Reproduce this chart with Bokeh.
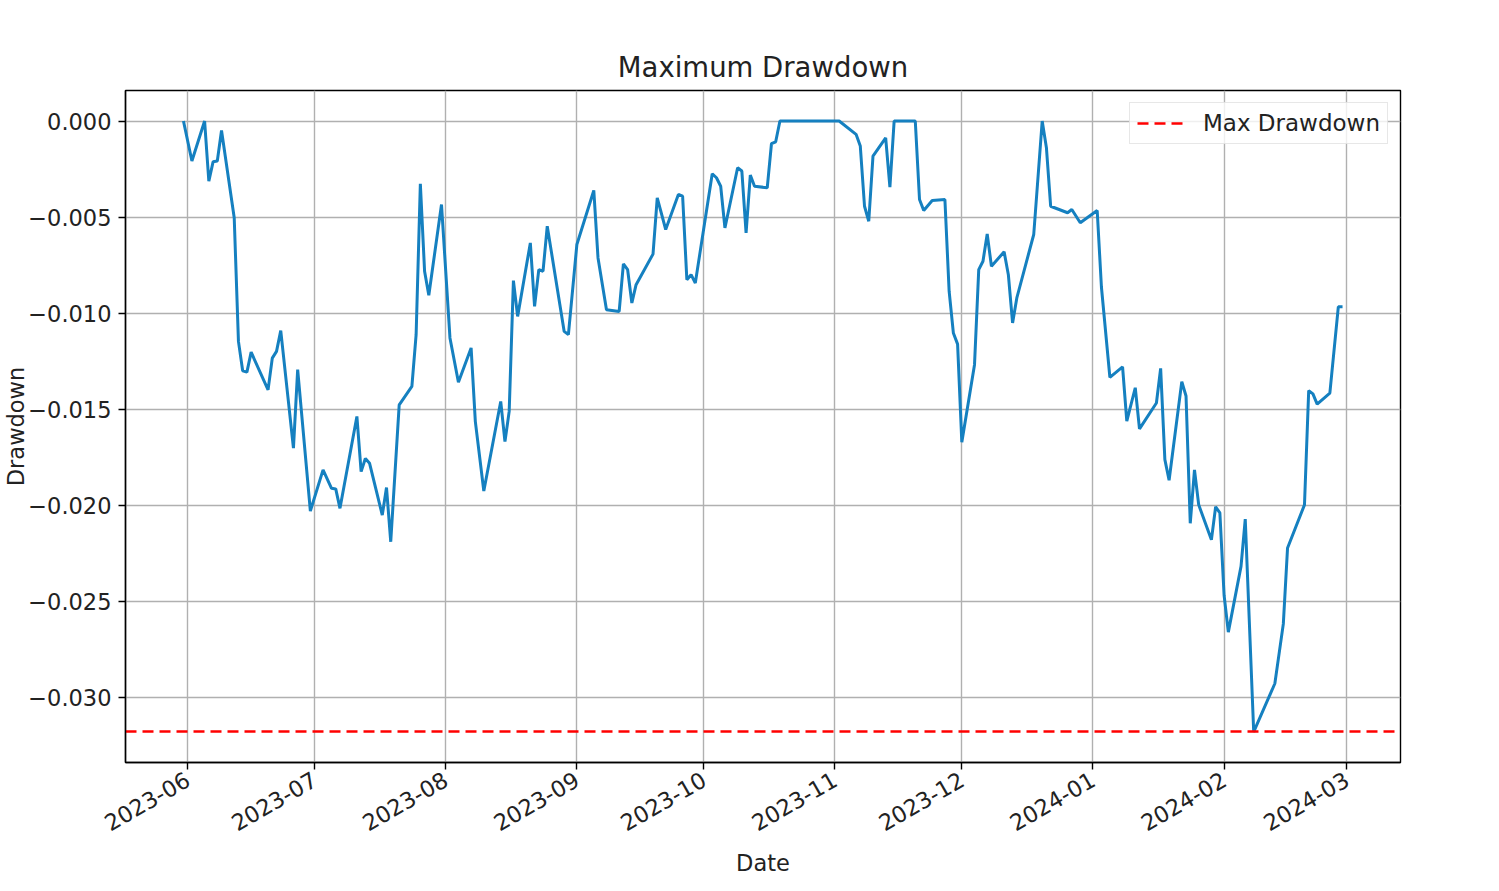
import math
import pandas as pd
from bokeh.plotting import figure
from bokeh.models import Range1d, FixedTicker, DatetimeTickFormatter, CustomJSTickFormatter
from bokeh.embed import file_html
from bokeh.resources import INLINE

# ---- data ----
dates = [
    "2023-05-31", "2023-06-02", "2023-06-05", "2023-06-06", "2023-06-07", "2023-06-08", "2023-06-09",
    "2023-06-12", "2023-06-13", "2023-06-14", "2023-06-15", "2023-06-16", "2023-06-20", "2023-06-21",
    "2023-06-22", "2023-06-23", "2023-06-26", "2023-06-27", "2023-06-30", "2023-07-03", "2023-07-05",
    "2023-07-06", "2023-07-07", "2023-07-11", "2023-07-12", "2023-07-13", "2023-07-14", "2023-07-17",
    "2023-07-18", "2023-07-19", "2023-07-21", "2023-07-24", "2023-07-25", "2023-07-26", "2023-07-27",
    "2023-07-28", "2023-07-31", "2023-08-02", "2023-08-04", "2023-08-07", "2023-08-08", "2023-08-10",
    "2023-08-14", "2023-08-15", "2023-08-16", "2023-08-17", "2023-08-18", "2023-08-21", "2023-08-22",
    "2023-08-23", "2023-08-24", "2023-08-25", "2023-08-29", "2023-08-30", "2023-09-01", "2023-09-05",
    "2023-09-06", "2023-09-08", "2023-09-11", "2023-09-12", "2023-09-13", "2023-09-14", "2023-09-15",
    "2023-09-19", "2023-09-20", "2023-09-22", "2023-09-25", "2023-09-26", "2023-09-27", "2023-09-28",
    "2023-09-29", "2023-10-03", "2023-10-04", "2023-10-05", "2023-10-06", "2023-10-09", "2023-10-10",
    "2023-10-11", "2023-10-12", "2023-10-13", "2023-10-16", "2023-10-17", "2023-10-18", "2023-10-19",
    "2023-10-26", "2023-11-02", "2023-11-06", "2023-11-07", "2023-11-08", "2023-11-09", "2023-11-10",
    "2023-11-13", "2023-11-14", "2023-11-15", "2023-11-20", "2023-11-21", "2023-11-22", "2023-11-24",
    "2023-11-27", "2023-11-28", "2023-11-29", "2023-11-30", "2023-12-01", "2023-12-04", "2023-12-05",
    "2023-12-06", "2023-12-07", "2023-12-08", "2023-12-11", "2023-12-12", "2023-12-13", "2023-12-14",
    "2023-12-18", "2023-12-20", "2023-12-21", "2023-12-22", "2023-12-26", "2023-12-27", "2023-12-29",
    "2024-01-02", "2024-01-03", "2024-01-05", "2024-01-08", "2024-01-09", "2024-01-11", "2024-01-12",
    "2024-01-16", "2024-01-17", "2024-01-18", "2024-01-19", "2024-01-22", "2024-01-23", "2024-01-24",
    "2024-01-25", "2024-01-26", "2024-01-29", "2024-01-30", "2024-01-31", "2024-02-01", "2024-02-02",
    "2024-02-05", "2024-02-06", "2024-02-08", "2024-02-13", "2024-02-15", "2024-02-16", "2024-02-20",
    "2024-02-21", "2024-02-22", "2024-02-23", "2024-02-26", "2024-02-28", "2024-02-29",
]
drawdown = [
    0.0, -0.00208, 0.0, -0.00313, -0.00212, -0.00208, -0.00049,
    -0.00503, -0.01146, -0.01299, -0.01306, -0.01202, -0.01398, -0.01233,
    -0.01198, -0.01090, -0.01701, -0.01293, -0.02028, -0.01814, -0.01910,
    -0.01913, -0.02014, -0.01536, -0.01823, -0.01755, -0.01780, -0.02049,
    -0.01906, -0.02188, -0.01476, -0.01380, -0.01111, -0.00326, -0.00781,
    -0.00906, -0.00434, -0.01128, -0.01358, -0.01180, -0.01563, -0.01924,
    -0.01458, -0.01667, -0.01510, -0.00830, -0.01016, -0.00634, -0.00964,
    -0.00773, -0.00781, -0.00547, -0.01094, -0.01111, -0.00642, -0.00361,
    -0.00712, -0.00981, -0.00990, -0.00743, -0.00773, -0.00946, -0.00851,
    -0.00692, -0.00399, -0.00564, -0.00382, -0.00391, -0.00825, -0.00799,
    -0.00842, -0.00274, -0.00295, -0.00339, -0.00556, -0.00243, -0.00260,
    -0.00582, -0.00281, -0.00339, -0.00347, -0.00118, -0.00108, 0.0,
    0.0, 0.0, -0.00069, -0.00130, -0.00443, -0.00521, -0.00182,
    -0.00087, -0.00344, 0.0, 0.0, -0.00408, -0.00465, -0.00413,
    -0.00408, -0.00885, -0.01102, -0.01160, -0.01670, -0.01267, -0.00773,
    -0.00729, -0.00587, -0.00755, -0.00680, -0.00799, -0.01050, -0.00920,
    -0.00590, 0.0, -0.00139, -0.00443, -0.00477, -0.00460, -0.00529,
    -0.00465, -0.00863, -0.01333, -0.01278, -0.01560, -0.01387, -0.01601,
    -0.01466, -0.01286, -0.01761, -0.01868, -0.01355, -0.01430, -0.02092,
    -0.01814, -0.01996, -0.02178, -0.02006, -0.02038, -0.02466, -0.02658,
    -0.02316, -0.02070, -0.03177, -0.02925, -0.02615, -0.02220, -0.01996,
    -0.01402, -0.01419, -0.01472, -0.01415, -0.00966, -0.00966,
]
x_tick_labels = ["2023-06", "2023-07", "2023-08", "2023-09", "2023-10",
                 "2023-11", "2023-12", "2024-01", "2024-02", "2024-03"]
y_ticks = [0.0, -0.005, -0.010, -0.015, -0.020, -0.025, -0.030]

# ---- derived ----
x = pd.to_datetime(dates)
max_dd = min(drawdown)
span = x.max() - x.min()
x_start = x.min() - 0.05 * span
x_end = x.max() + 0.05 * span
ymin, ymax = min(drawdown), max(drawdown)
yr = ymax - ymin
FONT = "DejaVu Sans"
TXT = "#222222"

p = figure(
    x_axis_type="datetime",
    frame_width=1275, frame_height=672,
    min_border_left=117, min_border_right=91, min_border_top=90, min_border_bottom=110,
    output_backend="svg", toolbar_location=None,
    x_range=Range1d(x_start, x_end),
    y_range=Range1d(ymin - 0.05 * yr, ymax + 0.05 * yr),
    background_fill_color="white", border_fill_color="white",
)

p.title.text = "Maximum Drawdown"
p.title.align = "center"
p.title.text_font = FONT
p.title.text_font_size = "27.5px"
p.title.text_font_style = "normal"
p.title.text_color = TXT
p.title.standoff = 15

p.outline_line_color = "black"
p.outline_line_width = 1.4

p.line(x, drawdown, line_color="#1580c0", line_width=3)
p.hspan(y=[max_dd], line_color="red", line_dash="11 6", line_width=2.6,
        legend_label="Max Drawdown")

month_ticks = [pd.Timestamp(t + "-01").value // 10**6 for t in x_tick_labels]
p.xaxis.ticker = FixedTicker(ticks=month_ticks)
p.xaxis.formatter = DatetimeTickFormatter(days="%Y-%m", months="%Y-%m", years="%Y-%m")
p.xaxis.major_label_orientation = math.pi / 6
p.yaxis.ticker = FixedTicker(ticks=y_ticks)
p.yaxis.formatter = CustomJSTickFormatter(code="""
    if (Math.abs(tick) < 1e-12) return '0.000';
    return (tick < 0 ? '\\u2212' : '') + Math.abs(tick).toFixed(3);
""")

for ax in (p.xaxis, p.yaxis):
    ax.axis_line_color = "black"
    ax.axis_line_width = 1.4
    ax.major_tick_line_color = "black"
    ax.major_tick_line_width = 1.4
    ax.major_tick_out = 7
    ax.major_tick_in = 0
    ax.minor_tick_line_color = None
    ax.major_label_text_font = FONT
    ax.major_label_text_font_size = "22.5px"
    ax.major_label_text_color = TXT
    ax.axis_label_text_font = FONT
    ax.axis_label_text_font_size = "22.5px"
    ax.axis_label_text_font_style = "normal"
    ax.axis_label_text_color = TXT

p.xaxis.axis_label = "Date"
p.yaxis.axis_label = "Drawdown"
p.xaxis.major_label_standoff = 8
p.yaxis.major_label_standoff = 7
p.yaxis.axis_label_standoff = -4
p.xaxis.axis_label_standoff = 8

p.grid.grid_line_color = "#b0b0b0"
p.grid.grid_line_width = 1.4

lg = p.legend[0]
lg.location = "top_right"
lg.margin = 12
lg.padding = 7
lg.glyph_width = 50
lg.label_standoff = 16
lg.label_text_font = FONT
lg.label_text_font_size = "23px"
lg.label_text_color = TXT
lg.border_line_color = "#d0d0d0"
lg.border_line_width = 1.4
lg.background_fill_alpha = 0.8

open("out.html", "w").write(file_html(p, INLINE))
